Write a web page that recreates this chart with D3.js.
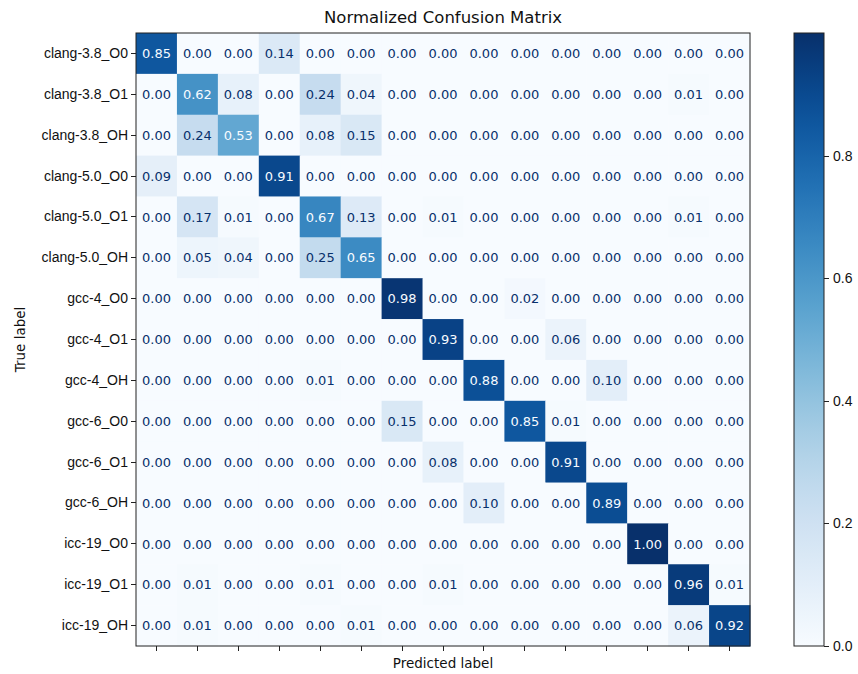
<html>
<style>
body { margin: 0; background: #fff; }
svg { font-family: "DejaVu Sans", sans-serif; }
.axis path, .axis line { stroke: #222; shape-rendering: crispEdges; }
.axis text { font-size: 14px; fill: #111; }
</style>
<body>
<svg width="858" height="674"></svg>
<script src="https://d3js.org/d3.v7.min.js"></script>
<script>

var labels = ["clang-3.8_O0", "clang-3.8_O1", "clang-3.8_OH", "clang-5.0_O0", "clang-5.0_O1", "clang-5.0_OH",
              "gcc-4_O0", "gcc-4_O1", "gcc-4_OH", "gcc-6_O0", "gcc-6_O1", "gcc-6_OH",
              "icc-19_O0", "icc-19_O1", "icc-19_OH"];

// rows = true label, cols = predicted label
var matrix = [
  [0.85, 0.00, 0.00, 0.14, 0.00, 0.00, 0.00, 0.00, 0.00, 0.00, 0.00, 0.00, 0.00, 0.00, 0.00],
  [0.00, 0.62, 0.08, 0.00, 0.24, 0.04, 0.00, 0.00, 0.00, 0.00, 0.00, 0.00, 0.00, 0.01, 0.00],
  [0.00, 0.24, 0.53, 0.00, 0.08, 0.15, 0.00, 0.00, 0.00, 0.00, 0.00, 0.00, 0.00, 0.00, 0.00],
  [0.09, 0.00, 0.00, 0.91, 0.00, 0.00, 0.00, 0.00, 0.00, 0.00, 0.00, 0.00, 0.00, 0.00, 0.00],
  [0.00, 0.17, 0.01, 0.00, 0.67, 0.13, 0.00, 0.01, 0.00, 0.00, 0.00, 0.00, 0.00, 0.01, 0.00],
  [0.00, 0.05, 0.04, 0.00, 0.25, 0.65, 0.00, 0.00, 0.00, 0.00, 0.00, 0.00, 0.00, 0.00, 0.00],
  [0.00, 0.00, 0.00, 0.00, 0.00, 0.00, 0.98, 0.00, 0.00, 0.02, 0.00, 0.00, 0.00, 0.00, 0.00],
  [0.00, 0.00, 0.00, 0.00, 0.00, 0.00, 0.00, 0.93, 0.00, 0.00, 0.06, 0.00, 0.00, 0.00, 0.00],
  [0.00, 0.00, 0.00, 0.00, 0.01, 0.00, 0.00, 0.00, 0.88, 0.00, 0.00, 0.10, 0.00, 0.00, 0.00],
  [0.00, 0.00, 0.00, 0.00, 0.00, 0.00, 0.15, 0.00, 0.00, 0.85, 0.01, 0.00, 0.00, 0.00, 0.00],
  [0.00, 0.00, 0.00, 0.00, 0.00, 0.00, 0.00, 0.08, 0.00, 0.00, 0.91, 0.00, 0.00, 0.00, 0.00],
  [0.00, 0.00, 0.00, 0.00, 0.00, 0.00, 0.00, 0.00, 0.10, 0.00, 0.00, 0.89, 0.00, 0.00, 0.00],
  [0.00, 0.00, 0.00, 0.00, 0.00, 0.00, 0.00, 0.00, 0.00, 0.00, 0.00, 0.00, 1.00, 0.00, 0.00],
  [0.00, 0.01, 0.00, 0.00, 0.01, 0.00, 0.00, 0.01, 0.00, 0.00, 0.00, 0.00, 0.00, 0.96, 0.01],
  [0.00, 0.01, 0.00, 0.00, 0.00, 0.01, 0.00, 0.00, 0.00, 0.00, 0.00, 0.00, 0.00, 0.06, 0.92]
];

var colorTicks = [0.0, 0.2, 0.4, 0.6, 0.8];

var svg = d3.select("svg"),
    margin = {top: 33, left: 136},
    width = 614,
    height = 613;

var cells = [];
matrix.forEach(function(row, i) {
  row.forEach(function(v, j) { cells.push({r: i, c: j, v: v}); });
});

var x = d3.scaleBand().domain(d3.range(labels.length)).range([0, width]);
var y = d3.scaleBand().domain(d3.range(labels.length)).range([0, height]);
var color = d3.scaleSequential(d3.interpolateBlues).domain([0, 1]);

var g = svg.append("g")
    .attr("transform", "translate(" + margin.left + "," + margin.top + ")");

g.selectAll("rect.cell")
  .data(cells)
  .enter().append("rect")
    .attr("class", "cell")
    .attr("x", d => x(d.c))
    .attr("y", d => y(d.r))
    .attr("width", x.bandwidth() + 0.5)
    .attr("height", y.bandwidth() + 0.5)
    .style("fill", d => color(d.v));

g.selectAll("text.val")
  .data(cells)
  .enter().append("text")
    .attr("class", "val")
    .attr("x", d => x(d.c) + x.bandwidth() / 2)
    .attr("y", d => y(d.r) + y.bandwidth() / 2)
    .attr("dy", "0.36em")
    .attr("text-anchor", "middle")
    .style("font-size", "13px")
    .style("fill", d => d.v >= 0.5 ? color(0) : color(1))
    .text(d => d.v.toFixed(2));

// frame
g.append("rect")
  .attr("width", width).attr("height", height)
  .style("fill", "none").style("stroke", "#222").style("stroke-width", 1);

g.append("g")
  .attr("class", "axis")
  .call(d3.axisLeft(y).tickSize(5).tickPadding(3).tickFormat(i => labels[i]))
  .call(a => a.select(".domain").remove());

g.append("g")
  .attr("class", "axis")
  .attr("transform", "translate(0," + height + ")")
  .call(d3.axisBottom(x).tickSize(5).tickFormat(""))
  .call(a => a.select(".domain").remove());

svg.append("text")
  .attr("x", margin.left + width / 2)
  .attr("y", 23)
  .attr("text-anchor", "middle")
  .style("font-size", "16.5px")
  .style("fill", "#111")
  .text("Normalized Confusion Matrix");

svg.append("text")
  .attr("x", margin.left + width / 2)
  .attr("y", 668)
  .attr("text-anchor", "middle")
  .style("font-size", "13.5px")
  .style("fill", "#111")
  .text("Predicted label");

svg.append("text")
  .attr("transform", "translate(25," + (margin.top + height / 2) + ") rotate(-90)")
  .attr("text-anchor", "middle")
  .style("font-size", "13.5px")
  .style("fill", "#111")
  .text("True label");

// colorbar
var cbX = 794, cbW = 30;
var cbScale = d3.scaleLinear().domain([0, 1]).range([margin.top + height, margin.top]);

var defs = svg.append("defs");
var grad = defs.append("linearGradient")
  .attr("id", "cbgrad")
  .attr("x1", 0).attr("y1", 1).attr("x2", 0).attr("y2", 0);
grad.selectAll("stop")
  .data(d3.range(0, 1.0001, 0.05))
  .enter().append("stop")
    .attr("offset", d => d)
    .attr("stop-color", d => color(d));

svg.append("rect")
  .attr("x", cbX).attr("y", margin.top)
  .attr("width", cbW).attr("height", height)
  .style("fill", "url(#cbgrad)")
  .style("stroke", "#222").style("stroke-width", 1);

svg.append("g")
  .attr("class", "axis")
  .attr("transform", "translate(" + (cbX + cbW) + ",0)")
  .call(d3.axisRight(cbScale).tickValues(colorTicks).tickSize(5).tickPadding(4).tickFormat(d3.format(".1f")))
  .call(a => a.select(".domain").remove());

</script>
</body>
</html>
